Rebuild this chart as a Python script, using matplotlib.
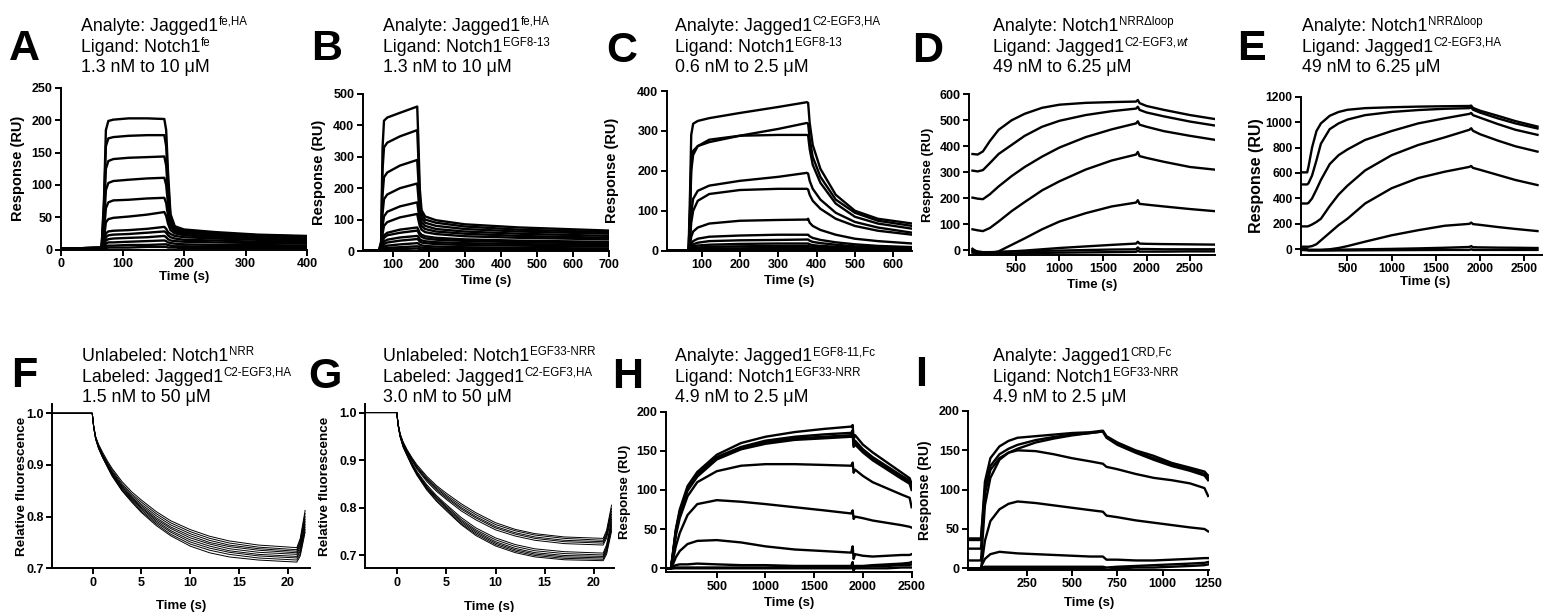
import matplotlib
matplotlib.use("Agg")
import matplotlib.pyplot as plt

plt.rcParams['font.family'] = ['Liberation Sans', 'DejaVu Sans']
plt.rcParams['axes.linewidth'] = 1.4

W, H = 1543, 612

# ---- panel A: Jagged1 fe,HA on Notch1 fe
a_time = [0, 66, 70, 73, 77, 85, 110, 140, 168, 171, 174, 178, 185, 200, 250, 320, 400]
a_curves = [
    [1, 3, 80, 185, 199, 201, 203, 203, 202, 185, 120, 55, 36, 31, 27, 23, 21],
    [1, 3, 70, 160, 172, 174, 176, 177, 177, 160, 105, 50, 34, 29, 25, 22, 20],
    [1, 3, 55, 125, 137, 140, 142, 143, 144, 130, 88, 45, 32, 27, 24, 21, 19],
    [1, 3, 40, 92, 103, 106, 108, 110, 111, 100, 70, 40, 30, 26, 23, 20, 18],
    [1, 2, 28, 64, 73, 76, 77, 79, 80, 72, 52, 35, 28, 24, 21, 19, 17],
    [1, 2, 18, 42, 47, 49, 51, 54, 58, 52, 40, 30, 25, 22, 19, 17, 15],
    [1, 2, 12, 25, 28, 29, 30, 32, 35, 32, 27, 24, 21, 19, 17, 15, 13],
    [1, 2, 9, 19, 22, 23, 24, 26, 28, 26, 22, 19, 17, 15, 14, 12, 11],
    [1, 2, 7, 14, 16, 17, 18, 19, 21, 19, 16, 14, 13, 12, 11, 10, 9],
    [0, 1, 4, 9, 11, 11, 12, 13, 14, 13, 11, 10, 9, 8, 7, 7, 6],
    [0, 1, 2, 5, 6, 6, 7, 7, 8, 8, 7, 6, 5, 5, 4, 4, 4],
    [0, 0, 1, 2, 3, 3, 3, 4, 4, 4, 3, 3, 3, 2, 2, 2, 2],
]
a_xticks = [0, 100, 200, 300, 400]
a_yticks = [0, 50, 100, 150, 200, 250]
a_title = [("Analyte: Jagged1", "fe,HA", ""), ("Ligand: Notch1", "fe", ""), ("1.3 nM to 10 μM", "", "")]

# ---- panel B
b_time = [17, 62, 68, 72, 76, 85, 120, 168, 171, 175, 180, 190, 220, 300, 450, 700]
b_curves = [
    [0, 2, 30, 330, 415, 425, 440, 460, 360, 200, 130, 110, 98, 85, 75, 65],
    [0, 2, 25, 260, 330, 345, 365, 385, 300, 170, 118, 100, 90, 78, 68, 60],
    [0, 2, 20, 180, 235, 250, 272, 290, 230, 140, 105, 90, 80, 70, 62, 55],
    [0, 2, 15, 120, 165, 180, 200, 215, 175, 115, 92, 80, 70, 62, 55, 48],
    [0, 1, 10, 80, 110, 125, 142, 155, 130, 95, 80, 70, 62, 55, 48, 42],
    [0, 1, 8, 55, 80, 92, 107, 118, 100, 80, 68, 60, 54, 47, 42, 37],
    [0, 1, 6, 35, 50, 58, 68, 75, 68, 58, 52, 47, 42, 37, 33, 29],
    [0, 1, 5, 28, 42, 50, 58, 65, 60, 50, 45, 40, 36, 32, 28, 24],
    [0, 1, 4, 20, 30, 36, 43, 48, 45, 38, 34, 31, 28, 25, 22, 19],
    [0, 1, 3, 14, 22, 27, 33, 38, 36, 30, 27, 25, 22, 19, 17, 14],
    [0, 0, 2, 9, 14, 17, 21, 25, 24, 20, 18, 16, 14, 12, 10, 8],
    [0, 0, 1, 5, 8, 10, 12, 15, 14, 12, 11, 10, 8, 7, 6, 5],
    [0, 0, 1, 3, 4, 5, 6, 8, 7, 6, 5, 5, 4, 3, 3, 2],
]
b_xticks = [100, 200, 300, 400, 500, 600, 700]
b_yticks = [0, 100, 200, 300, 400, 500]
b_title = [("Analyte: Jagged1", "fe,HA", ""), ("Ligand: Notch1", "EGF8-13", ""), ("1.3 nM to 10 μM", "", "")]

# ---- panel C
c_time = [9, 66, 70, 73, 78, 90, 120, 200, 300, 375, 378, 382, 390, 410, 450, 500, 560, 650]
c_curves = [
    [0, 0, 150, 290, 318, 325, 332, 345, 360, 372, 370, 320, 265, 205, 140, 100, 80, 68],
    [0, 0, 100, 220, 250, 262, 272, 288, 305, 320, 318, 280, 235, 185, 128, 95, 75, 62],
    [0, 0, 90, 200, 240, 262, 278, 288, 290, 290, 288, 255, 215, 170, 118, 85, 68, 55],
    [0, 0, 40, 95, 130, 150, 163, 175, 185, 195, 193, 175, 155, 128, 95, 72, 58, 45],
    [0, 0, 30, 70, 100, 125, 142, 152, 155, 155, 153, 140, 125, 105, 80, 62, 50, 40],
    [0, 0, 15, 35, 48, 58, 68, 75, 77, 78, 80, 70, 62, 52, 40, 30, 24, 18],
    [0, 0, 8, 18, 24, 30, 35, 38, 40, 40, 40, 36, 32, 27, 21, 16, 12, 9],
    [0, 0, 5, 12, 16, 20, 24, 26, 27, 28, 28, 25, 22, 19, 15, 11, 9, 7],
    [0, 0, 3, 8, 11, 13, 15, 17, 18, 18, 18, 16, 14, 12, 10, 8, 6, 5],
    [0, 0, 2, 5, 7, 8, 10, 11, 12, 12, 12, 11, 10, 8, 7, 5, 4, 3],
    [0, 0, 1, 3, 4, 5, 6, 6, 7, 7, 7, 6, 6, 5, 4, 3, 3, 2],
    [0, 0, 1, 1, 2, 2, 2, 3, 3, 3, 3, 3, 2, 2, 2, 1, 1, 1],
]
c_xticks = [100, 200, 300, 400, 500, 600]
c_yticks = [0, 100, 200, 300, 400]
c_title = [("Analyte: Jagged1", "C2-EGF3,HA", ""), ("Ligand: Notch1", "EGF8-13", ""), ("0.6 nM to 2.5 μM", "", "")]

# ---- panel D
d_time = [0, 60, 120, 200, 300, 450, 600, 800, 1000, 1300, 1600, 1880, 1900, 1920, 2000, 2200, 2500, 2780]
d_curves = [
    [370, 368, 380, 420, 463, 500, 525, 548, 560, 567, 570, 572, 578, 566, 555, 540, 520, 505],
    [306, 303, 308, 335, 370, 405, 440, 475, 498, 520, 535, 545, 552, 540, 530, 515, 495, 480],
    [202, 198, 196, 215, 245, 285, 320, 360, 395, 435, 465, 488, 496, 483, 475, 458, 440, 425],
    [80, 76, 73, 85, 110, 150, 185, 230, 265, 310, 345, 368, 378, 362, 355, 340, 320, 310],
    [-10, -12, -14, -12, -5, 20, 45, 80, 110, 142, 168, 183, 192, 178, 175, 168, 158, 150],
    [-5, -8, -10, -10, -8, -5, -2, 3, 8, 14, 20, 25, 32, 25, 24, 23, 22, 21],
    [0, -5, -8, -8, -7, -6, -5, -3, -2, 0, 2, 3, 10, 4, 4, 3, 3, 3],
    [5, -10, -15, -15, -14, -13, -12, -11, -10, -9, -8, -7, -2, -6, -6, -6, -5, -5],
]
d_xticks = [500, 1000, 1500, 2000, 2500]
d_yticks = [0, 100, 200, 300, 400, 500, 600]
d_title = [("Analyte: Notch1", "NRRΔloop", ""), ("Ligand: Jagged1", "C2-EGF3,", "wt"), ("49 nM to 6.25 μM", "", "")]

# ---- panel E
e_time = [-25, 45, 60, 100, 150, 200, 300, 400, 500, 700, 1000, 1300, 1600, 1880, 1900, 1920, 2000, 2200, 2400, 2650]
e_curves = [
    [605, 605, 650, 800, 930, 990, 1050, 1080, 1097, 1110, 1117, 1122, 1125, 1127, 1130, 1112, 1090, 1050, 1008, 965],
    [510, 510, 520, 580, 700, 830, 945, 990, 1020, 1055, 1080, 1095, 1105, 1110, 1116, 1098, 1075, 1030, 990, 950],
    [360, 360, 365, 400, 470, 545, 670, 740, 785, 860, 930, 990, 1030, 1065, 1072, 1055, 1035, 985, 940, 900],
    [180, 180, 182, 195, 215, 240, 340, 430, 500, 620, 740, 820, 880, 940, 952, 932, 905, 855, 810, 768],
    [20, 20, 20, 25, 40, 70, 130, 190, 240, 360, 480, 560, 610, 648, 655, 640, 625, 585, 545, 505],
    [5, 0, -5, -5, -5, -5, 0, 10, 25, 60, 110, 150, 185, 200, 210, 198, 192, 175, 160, 143],
    [0, 0, -5, -5, -5, -5, -4, -3, -2, 0, 3, 7, 12, 18, 25, 16, 15, 13, 12, 10],
    [-5, -8, -10, -10, -10, -10, -10, -9, -9, -8, -7, -6, -5, -5, 0, -5, -5, -5, -5, -5],
]
e_xticks = [500, 1000, 1500, 2000, 2500]
e_yticks = [0, 200, 400, 600, 800, 1000, 1200]
e_title = [("Analyte: Notch1", "NRRΔloop", ""), ("Ligand: Jagged1", "C2-EGF3,HA", ""), ("49 nM to 6.25 μM", "", "")]

# ---- panel F (competition, fluorescence)
f_time = [-4.15, -0.05, 0.1, 0.3, 0.6, 1, 1.5, 2, 3, 4, 5, 6.5, 8, 10, 12, 14, 17, 20.95, 21.3, 21.8]
f_curves = [
    [1, 1, .975, .955, .940, .925, .908, .893, .868, .848, .832, .810, .792, .775, .762, .753, .745, .740, .758, .812],
    [1, 1, .975, .954, .938, .922, .905, .890, .864, .844, .828, .806, .788, .771, .758, .749, .741, .736, .754, .806],
    [1, 1, .974, .953, .937, .920, .903, .887, .861, .841, .824, .802, .784, .767, .754, .745, .738, .733, .750, .800],
    [1, 1, .974, .953, .936, .919, .901, .885, .859, .838, .821, .798, .780, .763, .750, .742, .735, .730, .746, .795],
    [1, 1, .974, .952, .935, .918, .900, .884, .857, .836, .818, .795, .777, .759, .747, .738, .731, .727, .742, .790],
    [1, 1, .973, .952, .934, .917, .899, .882, .855, .834, .816, .792, .773, .755, .743, .734, .727, .723, .737, .785],
    [1, 1, .973, .951, .933, .916, .898, .881, .853, .832, .813, .789, .770, .751, .739, .731, .724, .720, .733, .780],
    [1, 1, .972, .950, .932, .915, .897, .879, .851, .830, .810, .786, .766, .747, .735, .727, .720, .716, .728, .775],
    [1, 1, .972, .950, .932, .915, .896, .878, .850, .828, .808, .783, .763, .743, .730, .722, .716, .712, .724, .770],
]
f_xticks = [0, 5, 10, 15, 20]
f_yticks = [0.7, 0.8, 0.9, 1.0]
f_title = [("Unlabeled: Notch1", "NRR", ""), ("Labeled: Jagged1", "C2-EGF3,HA", ""), ("1.5 nM to 50 μM", "", "")]

# ---- panel G
g_time = [-3.28, -0.05, 0.1, 0.3, 0.6, 1, 1.5, 2, 3, 4, 5, 6.5, 8, 10, 12, 14, 17, 20.95, 21.3, 21.8]
g_curves = [
    [1, 1, .975, .955, .938, .922, .905, .890, .866, .846, .830, .808, .789, .768, .754, .745, .738, .735, .752, .805],
    [1, 1, .975, .954, .937, .920, .903, .887, .863, .843, .826, .804, .785, .764, .751, .742, .735, .731, .748, .798],
    [1, 1, .974, .953, .936, .919, .901, .885, .860, .840, .823, .800, .781, .760, .747, .738, .731, .728, .744, .792],
    [1, 1, .974, .953, .935, .918, .900, .883, .858, .837, .820, .797, .778, .757, .744, .735, .728, .725, .740, .786],
    [1, 1, .974, .952, .934, .917, .898, .881, .855, .834, .817, .793, .774, .753, .740, .731, .724, .721, .736, .780],
    [1, 1, .973, .951, .932, .914, .894, .876, .848, .825, .806, .779, .757, .736, .722, .713, .707, .704, .722, .775],
    [1, 1, .973, .950, .931, .913, .892, .874, .845, .822, .803, .775, .753, .732, .718, .709, .703, .700, .718, .770],
    [1, 1, .972, .950, .930, .912, .891, .872, .843, .820, .800, .772, .750, .728, .714, .705, .699, .697, .714, .765],
    [1, 1, .972, .949, .929, .911, .890, .871, .841, .818, .798, .769, .747, .725, .711, .702, .696, .694, .710, .760],
    [1, 1, .971, .949, .928, .910, .888, .869, .839, .815, .795, .766, .744, .722, .708, .699, .693, .691, .706, .755],
    [1, 1, .971, .948, .927, .909, .887, .868, .837, .813, .793, .764, .741, .719, .705, .696, .690, .688, .702, .750],
]
g_xticks = [0, 5, 10, 15, 20]
g_yticks = [0.7, 0.8, 0.9, 1.0]
g_title = [("Unlabeled: Notch1", "EGF33-NRR", ""), ("Labeled: Jagged1", "C2-EGF3,HA", ""), ("3.0 nM to 50 μM", "", "")]

# ---- panel H
h_time = [-21, 30, 50, 80, 120, 200, 300, 500, 750, 1000, 1300, 1600, 1880, 1895, 1905, 1920, 2000, 2100, 2250, 2400, 2480, 2500]
h_curves = [
    [0, 0, 20, 50, 75, 105, 123, 145, 160, 168, 174, 178, 181, 183, 165, 170, 158, 148, 135, 122, 115, 108],
    [0, 0, 18, 48, 72, 102, 120, 142, 155, 163, 168, 171, 173, 176, 160, 163, 152, 142, 130, 118, 112, 104],
    [0, 0, 18, 47, 71, 101, 119, 141, 154, 161, 166, 168, 170, 173, 157, 160, 150, 140, 128, 116, 110, 102],
    [0, 0, 17, 45, 69, 99, 117, 139, 152, 159, 164, 166, 168, 171, 155, 158, 148, 138, 126, 114, 108, 100],
    [0, 0, 15, 42, 64, 92, 110, 124, 131, 133, 133, 132, 131, 135, 122, 126, 118, 110, 102, 94, 90, 78],
    [0, 0, 10, 28, 45, 68, 82, 87, 85, 82, 78, 74, 70, 74, 63, 66, 64, 61, 58, 55, 53, 52],
    [0, 0, 5, 14, 22, 31, 35, 36, 33, 28, 24, 22, 20, 28, 12, 18, 16, 15, 16, 17, 17, 18],
    [0, 0, 2, 4, 5, 5, 6, 5, 4, 4, 3, 3, 3, 8, -3, 3, 3, 4, 5, 6, 7, 8],
    [0, 0, 0, 1, 1, 1, 1, 1, 1, 1, 2, 2, 2, 5, -2, 2, 2, 3, 3, 4, 4, 5],
    [0, 0, 0, 0, 0, 0, 0, 0, 0, 0, 0, 0, 0, 3, -2, 0, 0, 0, 0, 1, 1, 1],
]
h_xticks = [500, 1000, 1500, 2000, 2500]
h_yticks = [0, 50, 100, 150, 200]
h_title = [("Analyte: Jagged1", "EGF8-11,Fc", ""), ("Ligand: Notch1", "EGF33-NRR", ""), ("4.9 nM to 2.5 μM", "", "")]

# ---- panel I
i_time = [-71, -2, 5, 20, 50, 100, 150, 200, 300, 400, 500, 600, 670, 690, 750, 850, 950, 1050, 1150, 1230, 1250]
i_curves = [
    [38, 38, 60, 110, 140, 155, 162, 166, 168, 170, 172, 173, 175, 168, 160, 150, 143, 134, 128, 123, 118],
    [36, 36, 55, 100, 130, 145, 152, 157, 163, 167, 170, 172, 174, 167, 158, 148, 140, 132, 126, 120, 115],
    [25, 25, 45, 95, 125, 140, 147, 152, 160, 165, 169, 172, 174, 166, 157, 147, 138, 130, 124, 118, 112],
    [10, 10, 30, 80, 115, 138, 147, 150, 149, 145, 140, 136, 133, 129, 126, 120, 115, 112, 108, 102, 92],
    [0, 0, 10, 35, 60, 75, 82, 85, 83, 80, 77, 74, 72, 67, 65, 61, 58, 55, 52, 50, 47],
    [0, 0, 5, 12, 18, 21, 20, 19, 18, 17, 16, 15, 15, 11, 11, 10, 10, 11, 12, 13, 13],
    [0, 0, 1, 2, 2, 2, 2, 2, 2, 2, 2, 2, 2, 1, 2, 3, 4, 5, 6, 7, 8],
    [0, 0, 0, 0, 0, 0, 0, 0, 0, 0, 0, 0, 0, -2, 0, 1, 1, 2, 3, 4, 5],
]
i_xticks = [250, 500, 750, 1000, 1250]
i_yticks = [0, 50, 100, 150, 200]
i_title = [("Analyte: Jagged1", "CRD,Fc", ""), ("Ligand: Notch1", "EGF33-NRR", ""), ("4.9 nM to 2.5 μM", "", "")]

resp = 'Response (RU)'
fluo = 'Relative fluorescence'

# layout in pixels: box = (left, right, top, bottom) matching xlim / ylim
panels = [
    dict(letter='A', lx=9, ly=60, tx=81, ty=31, time=a_time, curves=a_curves, box=(61, 307, 88, 249.5),
         xlim=(0, 400), ylim=(0, 250), xticks=a_xticks, yticks=a_yticks, title=a_title,
         ylabel=resp, ylab_x=18, ylab_fs=10.5, xlab_y=277, lw=1.7, fmt='%d', tfs=9),
    dict(letter='B', lx=311, ly=60, tx=383, ty=31, time=b_time, curves=b_curves, box=(362.7, 609.3, 94, 251),
         xlim=(17, 700), ylim=(0, 500), xticks=b_xticks, yticks=b_yticks, title=b_title,
         ylabel=resp, ylab_x=319, ylab_fs=10.5, xlab_y=281, lw=1.7, fmt='%d', tfs=9),
    dict(letter='C', lx=606, ly=62, tx=675, ty=31, time=c_time, curves=c_curves, box=(666.7, 912.4, 91, 250.7),
         xlim=(9, 650), ylim=(0, 400), xticks=c_xticks, yticks=c_yticks, title=c_title,
         ylabel=resp, ylab_x=612, ylab_fs=10.5, xlab_y=281, lw=1.7, fmt='%d', tfs=9),
    dict(letter='D', lx=912, ly=62, tx=993, ty=31, time=d_time, curves=d_curves, box=(969, 1215, 94.3, 255),
         xlim=(-40, 2787), ylim=(-19, 600), xticks=d_xticks, yticks=d_yticks, title=d_title,
         ylabel=resp, ylab_x=928, ylab_fs=9.5, xlab_y=285, lw=1.7, fmt='%d', tfs=9),
    dict(letter='E', lx=1237, ly=60, tx=1302, ty=31, time=e_time, curves=e_curves, box=(1301, 1549, 96.7, 255),
         xlim=(-25, 2780), ylim=(-45, 1200), xticks=e_xticks, yticks=e_yticks, title=e_title,
         ylabel=resp, ylab_x=1256, ylab_fs=11.5, xlab_y=282, lw=1.7, fmt='%d', tfs=8.7),
    dict(letter='F', lx=11, ly=387, tx=82, ty=361, time=f_time, curves=f_curves, box=(52.3, 310, 404, 568.3),
         xlim=(-4.15, 22.3), ylim=(0.7, 1.018), xticks=f_xticks, yticks=f_yticks, title=f_title,
         ylabel=fluo, ylab_x=22, ylab_fs=9.7, xlab_y=606, lw=0.7, fmt='%.1f', tfs=9),
    dict(letter='G', lx=308, ly=388, tx=383, ty=361, time=g_time, curves=g_curves, box=(365, 614, 404, 568.3),
         xlim=(-3.28, 22.05), ylim=(0.672, 1.018), xticks=g_xticks, yticks=g_yticks, title=g_title,
         ylabel=fluo, ylab_x=325, ylab_fs=9.7, xlab_y=607, lw=0.7, fmt='%.1f', tfs=9),
    dict(letter='H', lx=612, ly=388, tx=675, ty=361, time=h_time, curves=h_curves, box=(666, 911.6, 411.7, 572.2),
         xlim=(-21, 2500), ylim=(-5, 200), xticks=h_xticks, yticks=h_yticks, title=h_title,
         ylabel=resp, ylab_x=625, ylab_fs=9.5, xlab_y=603, lw=1.7, fmt='%d', tfs=9),
    dict(letter='I', lx=915, ly=386, tx=993, ty=361, time=i_time, curves=i_curves, box=(968.3, 1209, 411, 569.9),
         xlim=(-71.6, 1255), ylim=(-2, 200), xticks=i_xticks, yticks=i_yticks, title=i_title,
         ylabel=resp, ylab_x=925, ylab_fs=10, xlab_y=603, lw=1.7, fmt='%d', tfs=9),
]

fig = plt.figure(figsize=(W / 100, H / 100), dpi=100)
renderer = fig.canvas.get_renderer()


def fx(px):
    return px / W


def fy(py):
    return 1 - py / H


def title_block(x, y0, lines, fs=12.8):
    for i, (main, sup, sup_it) in enumerate(lines):
        y = y0 + i * 20.7
        t = fig.text(fx(x), fy(y), main, fontsize=fs, va='baseline', ha='left')
        xs = t.get_window_extent(renderer).x1 + 0.5
        for seg, style in ((sup, 'normal'), (sup_it, 'italic')):
            if not seg:
                continue
            s = fig.text(fx(xs), fy(y - 6), seg, fontsize=fs * 0.65, va='baseline',
                         ha='left', style=style)
            xs = s.get_window_extent(renderer).x1


for p in panels:
    left, right, top, bottom = p['box']
    ax = fig.add_axes([fx(left), fy(bottom), (right - left) / W, (bottom - top) / H])
    for vals in p['curves']:
        ax.plot(p['time'], vals, color='black', lw=p['lw'], solid_joinstyle='round')
    ax.set_xlim(p['xlim'])
    ax.set_ylim(p['ylim'])
    ax.set_xticks(p['xticks'], ['%d' % v for v in p['xticks']], fontsize=p['tfs'], fontweight='bold')
    ax.set_yticks(p['yticks'], [p['fmt'] % v for v in p['yticks']], fontsize=p['tfs'], fontweight='bold')
    ax.spines[['top', 'right']].set_visible(False)
    ax.tick_params(direction='out', length=4, width=1.4, pad=2, colors='black')
    ax.set_xlabel('Time (s)', fontsize=9.5, fontweight='bold', va='center')
    ax.set_ylabel(p['ylabel'], fontsize=p['ylab_fs'], fontweight='bold', va='center')
    ax.xaxis.set_label_coords(0.5, (bottom - p['xlab_y']) / (bottom - top))
    ax.yaxis.set_label_coords((p['ylab_x'] - left) / (right - left), 0.5)

    fig.text(fx(p['lx']), fy(p['ly']), p['letter'], fontsize=31, fontweight='bold',
             va='baseline', ha='left')
    title_block(p['tx'], p['ty'], p['title'])

fig.savefig('out.png', dpi=100)
